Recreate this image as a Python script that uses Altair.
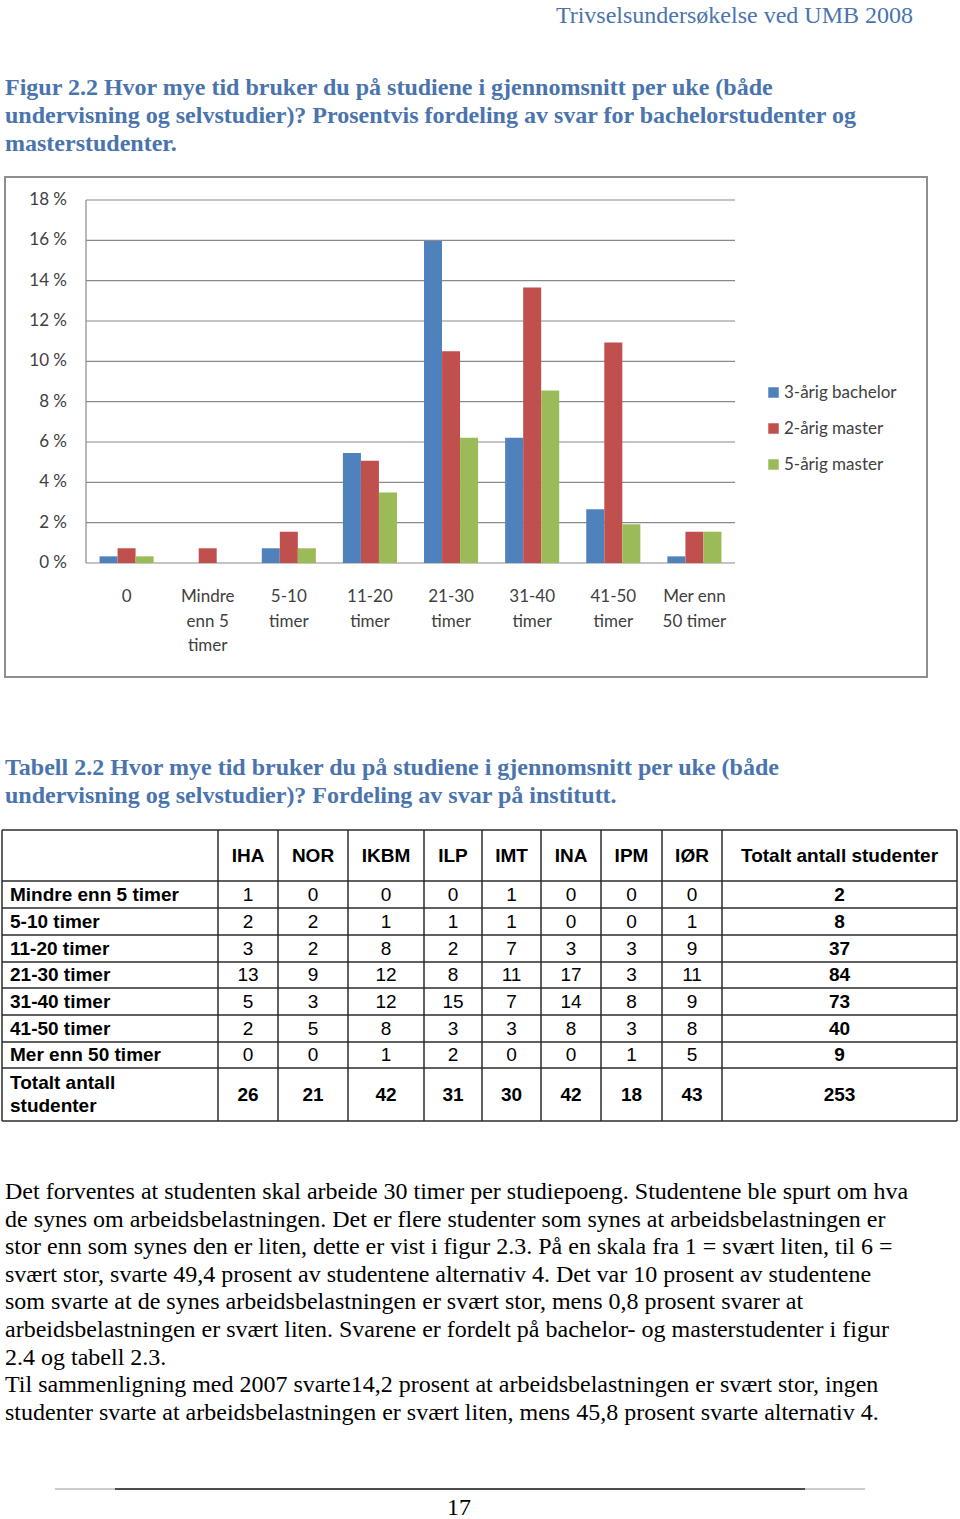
import altair as alt
import pandas as pd

# ---------------- data ----------------
categories = ["0", "Mindre enn 5 timer", "5-10 timer", "11-20 timer",
              "21-30 timer", "31-40 timer", "41-50 timer", "Mer enn 50 timer"]
category_labels = ["0", "Mindre\nenn 5\ntimer", "5-10\ntimer", "11-20\ntimer",
                   "21-30\ntimer", "31-40\ntimer", "41-50\ntimer", "Mer enn\n50 timer"]
series = ["3-årig bachelor", "2-årig master", "5-årig master"]
bachelor_3 = [0.33, 0.0, 0.73, 5.45, 15.97, 6.21, 2.67, 0.33]
master_2 = [0.73, 0.73, 1.55, 5.07, 10.5, 13.66, 10.93, 1.55]
master_5 = [0.33, 0.0, 0.73, 3.5, 6.21, 8.55, 1.92, 1.55]
y_ticks = [0, 2, 4, 6, 8, 10, 12, 14, 16, 18]

table_columns = ["IHA", "NOR", "IKBM", "ILP", "IMT", "INA", "IPM", "IØR",
                 "Totalt antall studenter"]
table_rows = ["Mindre enn 5 timer", "5-10 timer", "11-20 timer", "21-30 timer",
              "31-40 timer", "41-50 timer", "Mer enn 50 timer", "Totalt antall\nstudenter"]
row_mindre5 = [1, 0, 0, 0, 1, 0, 0, 0, 2]
row_5_10 = [2, 2, 1, 1, 1, 0, 0, 1, 8]
row_11_20 = [3, 2, 8, 2, 7, 3, 3, 9, 37]
row_21_30 = [13, 9, 12, 8, 11, 17, 3, 11, 84]
row_31_40 = [5, 3, 12, 15, 7, 14, 8, 9, 73]
row_41_50 = [2, 5, 8, 3, 3, 8, 3, 8, 40]
row_mer50 = [0, 0, 1, 2, 0, 0, 1, 5, 9]
row_totalt = [26, 21, 42, 31, 30, 42, 18, 43, 253]

header_text = ["Trivselsundersøkelse ved UMB 2008"]
figure_caption = [
    "Figur 2.2 Hvor mye tid bruker du på studiene i gjennomsnitt per uke (både",
    "undervisning og selvstudier)? Prosentvis fordeling av svar for bachelorstudenter og",
    "masterstudenter.",
]
table_caption = [
    "Tabell 2.2 Hvor mye tid bruker du på studiene i gjennomsnitt per uke (både",
    "undervisning og selvstudier)? Fordeling av svar på institutt.",
]
body_text = [
    "Det forventes at studenten skal arbeide 30 timer per studiepoeng. Studentene ble spurt om hva",
    "de synes om arbeidsbelastningen. Det er flere studenter som synes at arbeidsbelastningen er",
    "stor enn som synes den er liten, dette er vist i figur 2.3. På en skala fra 1 = svært liten, til 6 =",
    "svært stor, svarte 49,4 prosent av studentene alternativ 4. Det var 10 prosent av studentene",
    "som svarte at de synes arbeidsbelastningen er svært stor, mens 0,8 prosent svarer at",
    "arbeidsbelastningen er svært liten. Svarene er fordelt på bachelor- og masterstudenter i figur",
    "2.4 og tabell 2.3.",
    "Til sammenligning med 2007 svarte14,2 prosent at arbeidsbelastningen er svært stor, ingen",
    "studenter svarte at arbeidsbelastningen er svært liten, mens 45,8 prosent svarte alternativ 4.",
]
page_number = ["17"]

# ---------------- layout (page pixels) ----------------
W, H = 960, 1519
PX = alt.Scale(domain=[0, W], range=[0, W], nice=False, zero=False)
PY = alt.Scale(domain=[0, H], range=[0, H], nice=False, zero=False)
SERIF = "Liberation Serif"
SANS = "Liberation Sans"
CHART_FONT = "Lato"
CAPTION_COLOR = "#4A74AE"
TEXT_SIZE = 24

plot_left, plot_right, plot_top, plot_bottom = 86, 735, 200, 563
col_edges = [2, 218, 278, 348, 424, 482, 541, 601, 662, 722, 957]
row_edges = [830, 881, 908, 935, 962, 988, 1015, 1042, 1068, 1121]
row_line_height = 23


def text_block(lines, x, y0, dy, **kw):
    df = pd.DataFrame({"text": lines,
                       "x": [x] * len(lines),
                       "y": [y0 + i * dy for i in range(len(lines))]})
    return alt.Chart(df).mark_text(baseline="middle", **kw).encode(
        x=alt.X("x:Q", scale=PX, axis=None),
        y=alt.Y("y:Q", scale=PY, axis=None),
        text="text:N",
    )


# ---------------- bar chart ----------------
bars_df = pd.DataFrame({
    "category": categories * 3,
    "series": [s for s in series for _ in categories],
    "value": bachelor_3 + master_2 + master_5,
})
xs = alt.Scale(domain=categories, range=[plot_left, plot_right],
               paddingInner=0.333, paddingOuter=0.1667)
ys = alt.Scale(domain=[0, 18], range=[plot_bottom, plot_top], nice=False)

frame = alt.Chart(pd.DataFrame({"x": [5], "x2": [927], "y": [177], "y2": [677]})).mark_rect(
    fill="white", stroke="#8E8E8E", strokeWidth=2
).encode(
    x=alt.X("x:Q", scale=PX, axis=None), x2="x2:Q",
    y=alt.Y("y:Q", scale=PY, axis=None), y2="y2:Q",
)

grid = alt.Chart(pd.DataFrame({"tick": y_ticks})).mark_rule(
    color="#8A8A8A", strokeWidth=1.2
).encode(
    y=alt.Y("tick:Q", scale=ys, axis=None),
    x=alt.value(plot_left), x2=alt.value(plot_right),
)

y_axis_line = alt.Chart(pd.DataFrame({"a": [0], "b": [18]})).mark_rule(
    color="#8A8A8A", strokeWidth=1.2
).encode(
    y=alt.Y("a:Q", scale=ys, axis=None), y2="b:Q", x=alt.value(plot_left),
)

bars = alt.Chart(bars_df).mark_bar(size=18).encode(
    x=alt.X("category:N", scale=xs, axis=None, sort=categories),
    xOffset=alt.XOffset("series:N", sort=series,
                        scale=alt.Scale(domain=series, paddingInner=0, paddingOuter=0)),
    y=alt.Y("value:Q", scale=ys, axis=None),
    color=alt.Color(
        "series:N",
        scale=alt.Scale(domain=series, range=["#4F81BD", "#C0504D", "#9BBB59"]),
        legend=alt.Legend(
            orient="none", legendX=765, legendY=384, title=None,
            symbolType="square", symbolSize=110, symbolStrokeWidth=0,
            labelFont=CHART_FONT, labelFontSize=17, labelColor="#404040",
            rowPadding=18, labelOffset=2,
        ),
    ),
)

y_labels = alt.Chart(pd.DataFrame({
    "tick": y_ticks, "label": [f"{t} %" for t in y_ticks]
})).mark_text(align="right", baseline="middle", font=CHART_FONT,
              fontSize=17, color="#404040").encode(
    y=alt.Y("tick:Q", scale=ys, axis=None),
    x=alt.value(67),
    text="label:N",
)

x_labels = alt.Chart(pd.DataFrame({
    "category": categories, "label": category_labels
})).mark_text(align="center", baseline="top", font=CHART_FONT, fontSize=17,
              color="#404040", lineBreak="\n", lineHeight=24.5).encode(
    x=alt.X("category:N", scale=xs, axis=None, sort=categories),
    y=alt.value(589),
    text="label:N",
)

# ---------------- table ----------------
table_values = [row_mindre5, row_5_10, row_11_20, row_21_30,
                row_31_40, row_41_50, row_mer50, row_totalt]
col_centers = [(col_edges[i] + col_edges[i + 1]) / 2 for i in range(1, len(col_edges) - 1)]
row_centers = [(row_edges[i] + row_edges[i + 1]) / 2 for i in range(1, len(row_edges) - 1)]

cells = []
for ri, (rname, vals) in enumerate(zip(table_rows, table_values)):
    for ci, v in enumerate(vals):
        bold = (ri == len(table_rows) - 1) or (ci == len(table_columns) - 1)
        cells.append({"x": col_centers[ci], "y": row_centers[ri], "text": str(v),
                      "bold": bold})
cells_df = pd.DataFrame(cells)


def cell_layer(df, weight):
    return alt.Chart(df).mark_text(
        font=SANS, fontSize=19, fontWeight=weight, color="black",
        align="center", baseline="middle",
    ).encode(
        x=alt.X("x:Q", scale=PX, axis=None),
        y=alt.Y("y:Q", scale=PY, axis=None),
        text="text:N",
    )


cells_normal = cell_layer(cells_df[~cells_df["bold"]], "normal")
cells_bold = cell_layer(cells_df[cells_df["bold"]], "bold")

header_df = pd.DataFrame({"x": col_centers, "y": [(row_edges[0] + row_edges[1]) / 2] * len(col_centers),
                          "text": table_columns})
header_cells = cell_layer(header_df, "bold")

# multi-line labels: first line is placed so the block is centred in its row
row_label_y = [c - (t.count("\n") * row_line_height) / 2 for c, t in zip(row_centers, table_rows)]
row_label_df = pd.DataFrame({"x": [10] * len(table_rows), "y": row_label_y, "text": table_rows})
row_labels = alt.Chart(row_label_df).mark_text(
    font=SANS, fontSize=19, fontWeight="bold", color="black",
    align="left", baseline="middle", lineBreak="\n", lineHeight=row_line_height,
).encode(
    x=alt.X("x:Q", scale=PX, axis=None),
    y=alt.Y("y:Q", scale=PY, axis=None),
    text="text:N",
)

segments = []
for y in row_edges:
    segments.append({"x": col_edges[0], "x2": col_edges[-1], "y": y, "y2": y})
for x in col_edges:
    segments.append({"x": x, "x2": x, "y": row_edges[0], "y2": row_edges[-1]})
table_grid = alt.Chart(pd.DataFrame(segments)).mark_rule(
    color="#2B2B2B", strokeWidth=1.5
).encode(
    x=alt.X("x:Q", scale=PX, axis=None), x2="x2:Q",
    y=alt.Y("y:Q", scale=PY, axis=None), y2="y2:Q",
)

# ---------------- page text ----------------
header = text_block(header_text, 913, 16, 0, font=SERIF, fontSize=TEXT_SIZE,
                    color=CAPTION_COLOR, align="right")
fig_cap = text_block(figure_caption, 5, 88, 28, font=SERIF, fontSize=TEXT_SIZE,
                     fontWeight="bold", color=CAPTION_COLOR, align="left")
tab_cap = text_block(table_caption, 5, 768, 28, font=SERIF, fontSize=TEXT_SIZE,
                     fontWeight="bold", color=CAPTION_COLOR, align="left")
body = text_block(body_text, 5, 1192, 27.6, font=SERIF, fontSize=TEXT_SIZE,
                  color="black", align="left")
page_no = text_block(page_number, 459, 1508, 0, font=SERIF, fontSize=TEXT_SIZE,
                     color="black", align="center")

footer_lines = alt.Chart(pd.DataFrame({
    "x": [55, 115], "x2": [865, 805], "y": [1489, 1489], "w": ["thin", "thick"]
})).mark_rule().encode(
    x=alt.X("x:Q", scale=PX, axis=None), x2="x2:Q",
    y=alt.Y("y:Q", scale=PY, axis=None),
    color=alt.Color("w:N", scale=alt.Scale(domain=["thin", "thick"], range=["#9A9A9A", "#222222"]),
                    legend=None),
    strokeWidth=alt.StrokeWidth("w:N", scale=alt.Scale(domain=["thin", "thick"], range=[1, 1.6]),
                                legend=None),
)

chart = alt.layer(
    frame, grid, y_axis_line, bars, y_labels, x_labels,
    table_grid, header_cells, row_labels, cells_normal, cells_bold,
    header, fig_cap, tab_cap, body, page_no, footer_lines,
).resolve_scale(
    x="independent", y="independent", color="independent", strokeWidth="independent"
).properties(
    width=W, height=H, padding=0, autosize=alt.AutoSizeParams(type="none"),
    background="white",
).configure_view(stroke=None)

chart.save("out.html", embed_options={"renderer": "svg", "actions": False})
